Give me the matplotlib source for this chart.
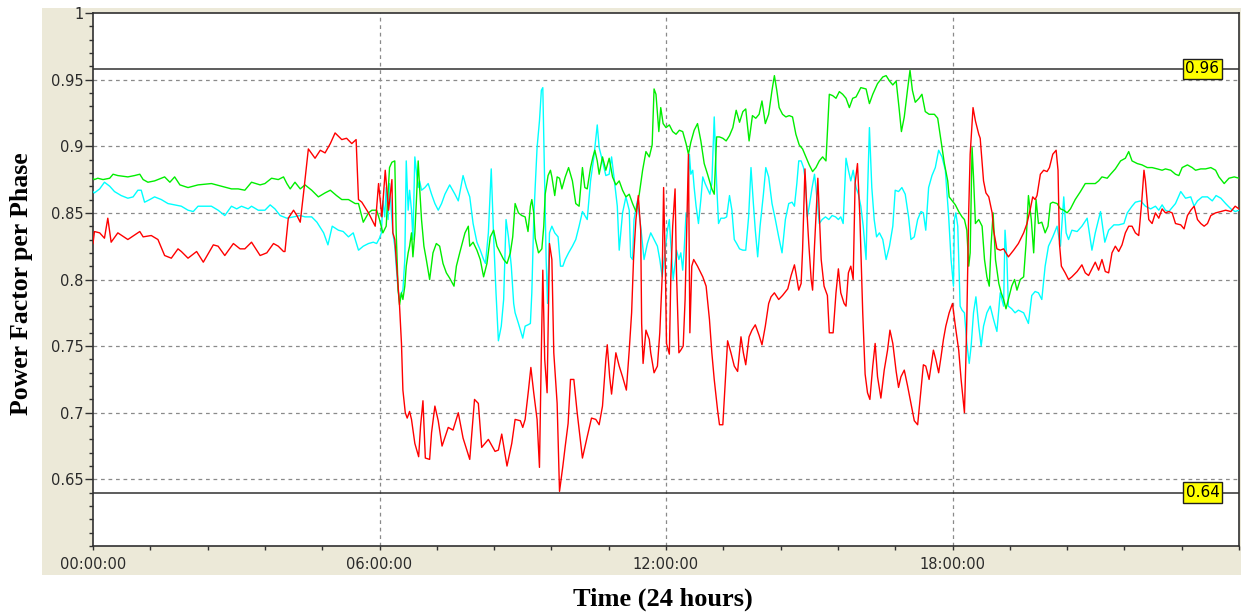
import matplotlib
matplotlib.use("Agg")
import matplotlib.pyplot as plt
from matplotlib.patches import Rectangle
from matplotlib.ticker import MultipleLocator

# ---------------- data (hours, power factor) ----------------
red_t = [0.00,0.03,0.14,0.24,0.31,0.38,0.52,0.73,0.98,1.05,1.22,1.36,1.50,1.64,1.78,1.85,1.99,2.17,2.31,2.52,
         2.62,2.76,2.94,3.08,3.18,3.32,3.50,3.64,3.78,3.88,3.99,4.02,4.09,4.20,4.27,4.34,4.41,4.51,4.65,4.76,
         4.86,4.97,5.07,5.21,5.31,5.42,5.51,5.56,5.63,5.77,5.91,5.98,6.05,6.12,6.19,6.26,6.28,6.32,6.42,6.46,
         6.49,6.54,6.58,6.63,6.67,6.74,6.82,6.86,6.91,6.96,7.05,7.09,7.16,7.23,7.31,7.44,7.54,7.65,7.75,7.89,
         7.99,8.07,8.14,8.28,8.42,8.49,8.56,8.67,8.77,8.84,8.95,9.00,9.05,9.12,9.17,9.23,9.30,9.35,9.39,9.42,
         9.46,9.51,9.56,9.61,9.65,9.72,9.77,9.84,9.89,9.95,10.00,10.07,10.14,10.25,10.35,10.44,10.53,10.60,10.67,10.74,
         10.77,10.82,10.86,10.95,11.02,11.09,11.17,11.23,11.28,11.32,11.37,11.42,11.47,11.49,11.52,11.58,11.65,11.68,11.75,11.82,
         11.87,11.92,11.95,11.99,12.01,12.07,12.10,12.14,12.19,12.22,12.27,12.31,12.36,12.40,12.44,12.47,12.50,12.54,12.58,12.66,
         12.77,12.84,12.91,12.96,13.01,13.08,13.12,13.19,13.24,13.29,13.36,13.43,13.50,13.57,13.62,13.67,13.74,13.80,13.87,13.95,
         14.01,14.08,14.15,14.20,14.27,14.36,14.44,14.55,14.62,14.69,14.72,14.78,14.83,14.86,14.91,14.95,14.99,15.04,15.07,15.11,
         15.14,15.18,15.25,15.31,15.38,15.42,15.50,15.56,15.61,15.66,15.73,15.77,15.82,15.87,15.92,15.96,16.01,16.06,16.12,16.17,
         16.22,16.27,16.33,16.38,16.43,16.50,16.57,16.64,16.69,16.75,16.82,16.87,16.92,16.99,17.06,17.13,17.20,17.27,17.34,17.39,
         17.44,17.51,17.60,17.65,17.71,17.76,17.81,17.86,17.93,18.00,18.06,18.13,18.18,18.25,18.28,18.30,18.34,18.37,18.43,18.48,
         18.55,18.58,18.65,18.70,18.76,18.83,18.86,18.93,19.00,19.07,19.17,19.28,19.38,19.49,19.56,19.63,19.68,19.73,19.77,19.84,
         19.91,19.98,20.03,20.10,20.17,20.21,20.24,20.28,20.36,20.43,20.50,20.61,20.71,20.78,20.85,20.92,20.99,21.06,21.13,21.20,
         21.27,21.34,21.41,21.48,21.55,21.62,21.69,21.76,21.83,21.90,21.96,22.01,22.04,22.08,22.11,22.18,22.25,22.32,22.39,22.46,
         22.53,22.60,22.67,22.78,22.85,22.92,22.99,23.06,23.13,23.20,23.27,23.34,23.41,23.51,23.62,23.72,23.83,23.92,24.00]
red_v = [0.827,0.836,0.835,0.831,0.846,0.828,0.835,0.830,0.836,0.832,0.833,0.830,0.818,0.816,0.823,0.821,0.816,0.821,0.813,0.826,
         0.825,0.818,0.827,0.823,0.823,0.828,0.818,0.820,0.827,0.825,0.821,0.821,0.846,0.852,0.848,0.843,0.865,0.898,0.891,0.897,
         0.895,0.902,0.910,0.905,0.906,0.902,0.905,0.860,0.858,0.850,0.840,0.872,0.847,0.882,0.852,0.875,0.835,0.830,0.780,0.752,
         0.717,0.700,0.696,0.701,0.695,0.677,0.667,0.690,0.709,0.666,0.665,0.685,0.705,0.694,0.675,0.689,0.687,0.700,0.681,0.665,
         0.710,0.707,0.674,0.680,0.671,0.672,0.684,0.660,0.677,0.695,0.694,0.689,0.695,0.717,0.734,0.715,0.695,0.659,0.747,0.807,
         0.740,0.715,0.827,0.815,0.745,0.707,0.641,0.660,0.675,0.692,0.725,0.725,0.700,0.666,0.682,0.696,0.695,0.691,0.705,0.740,
         0.751,0.727,0.714,0.745,0.735,0.727,0.717,0.747,0.775,0.815,0.845,0.863,0.837,0.767,0.737,0.762,0.755,0.745,0.730,0.735,
         0.760,0.802,0.869,0.802,0.752,0.744,0.800,0.840,0.868,0.805,0.745,0.747,0.750,0.785,0.847,0.894,0.760,0.810,0.815,0.810,
         0.802,0.795,0.770,0.745,0.725,0.702,0.691,0.691,0.722,0.754,0.745,0.735,0.731,0.757,0.745,0.736,0.757,0.762,0.766,0.758,
         0.751,0.765,0.782,0.787,0.790,0.785,0.788,0.793,0.803,0.811,0.805,0.792,0.797,0.822,0.883,0.852,0.827,0.800,0.792,0.825,
         0.847,0.876,0.815,0.795,0.788,0.760,0.760,0.790,0.808,0.790,0.782,0.780,0.805,0.810,0.800,0.872,0.887,0.847,0.775,0.729,
         0.715,0.710,0.735,0.752,0.727,0.711,0.732,0.747,0.762,0.752,0.731,0.719,0.727,0.732,0.720,0.707,0.694,0.691,0.717,0.736,
         0.735,0.725,0.747,0.740,0.730,0.742,0.755,0.765,0.775,0.782,0.765,0.747,0.725,0.700,0.740,0.770,0.852,0.894,0.929,0.919,
         0.909,0.906,0.874,0.865,0.862,0.850,0.837,0.823,0.822,0.823,0.817,0.822,0.827,0.835,0.842,0.853,0.862,0.860,0.863,0.879,
         0.882,0.881,0.884,0.894,0.897,0.882,0.827,0.810,0.805,0.800,0.802,0.806,0.811,0.805,0.803,0.808,0.813,0.807,0.815,0.806,
         0.805,0.820,0.825,0.821,0.826,0.835,0.840,0.840,0.835,0.833,0.857,0.882,0.874,0.857,0.845,0.842,0.850,0.846,0.853,0.850,
         0.851,0.850,0.842,0.841,0.838,0.848,0.852,0.855,0.845,0.842,0.840,0.842,0.848,0.850,0.851,0.852,0.851,0.855,0.853]

green_t = [0.00,0.03,0.10,0.21,0.35,0.42,0.52,0.73,0.87,0.98,1.05,1.15,1.29,1.50,1.61,1.71,1.82,1.99,2.20,2.48,
           2.69,2.90,3.04,3.18,3.32,3.50,3.60,3.74,3.88,3.99,4.06,4.13,4.23,4.34,4.44,4.58,4.72,4.86,4.97,5.10,
           5.21,5.35,5.49,5.56,5.66,5.77,5.84,5.94,6.00,6.07,6.14,6.21,6.26,6.32,6.35,6.39,6.42,6.46,6.49,6.53,
           6.56,6.60,6.63,6.67,6.70,6.74,6.77,6.81,6.84,6.88,6.93,6.98,7.05,7.12,7.19,7.26,7.33,7.40,7.47,7.56,
           7.61,7.68,7.79,7.86,7.89,7.96,8.04,8.11,8.18,8.25,8.32,8.39,8.46,8.53,8.60,8.67,8.74,8.79,8.84,8.91,
           8.98,9.05,9.11,9.16,9.19,9.23,9.26,9.33,9.40,9.44,9.47,9.53,9.58,9.61,9.67,9.72,9.77,9.82,9.89,9.96,
           10.04,10.11,10.18,10.25,10.30,10.35,10.42,10.47,10.51,10.56,10.60,10.67,10.74,10.81,10.88,10.95,11.02,11.09,11.16,11.23,
           11.30,11.37,11.44,11.51,11.58,11.65,11.71,11.75,11.79,11.85,11.89,11.94,12.00,12.07,12.14,12.21,12.28,12.35,12.42,12.47,
           12.52,12.59,12.66,12.73,12.80,12.87,12.91,12.96,13.01,13.06,13.12,13.19,13.26,13.33,13.40,13.47,13.54,13.61,13.67,13.74,
           13.81,13.88,13.95,14.01,14.08,14.15,14.22,14.27,14.32,14.37,14.44,14.51,14.58,14.65,14.72,14.79,14.86,14.93,15.00,15.07,
           15.14,15.21,15.28,15.35,15.42,15.49,15.56,15.63,15.70,15.77,15.84,15.91,15.98,16.08,16.19,16.26,16.33,16.43,16.54,16.61,
           16.68,16.75,16.82,16.88,16.93,16.99,17.06,17.11,17.16,17.22,17.30,17.36,17.43,17.51,17.62,17.69,17.76,17.83,17.90,17.93,
           18.04,18.06,18.13,18.20,18.25,18.30,18.34,18.37,18.41,18.44,18.48,18.55,18.62,18.67,18.72,18.77,18.81,18.85,18.90,18.97,
           19.02,19.07,19.12,19.17,19.24,19.30,19.35,19.42,19.49,19.54,19.59,19.65,19.70,19.75,19.80,19.87,19.94,20.00,20.05,20.10,
           20.19,20.26,20.33,20.40,20.47,20.57,20.68,20.78,20.89,20.99,21.06,21.13,21.24,21.31,21.41,21.52,21.62,21.69,21.76,21.87,
           21.97,22.08,22.18,22.29,22.39,22.46,22.57,22.67,22.74,22.81,22.92,23.02,23.09,23.20,23.30,23.41,23.51,23.58,23.69,23.79,
           23.90,24.00]
green_v = [0.876,0.875,0.876,0.875,0.876,0.879,0.878,0.877,0.878,0.879,0.875,0.873,0.874,0.877,0.873,0.877,0.871,0.869,0.871,0.872,
           0.870,0.868,0.868,0.867,0.873,0.871,0.872,0.876,0.875,0.877,0.872,0.868,0.873,0.868,0.871,0.867,0.862,0.865,0.867,0.863,
           0.860,0.860,0.857,0.857,0.843,0.850,0.852,0.852,0.845,0.835,0.840,0.884,0.888,0.889,0.835,0.792,0.781,0.790,0.785,0.795,
           0.810,0.820,0.825,0.835,0.817,0.835,0.857,0.889,0.869,0.845,0.825,0.815,0.800,0.820,0.827,0.825,0.812,0.805,0.801,0.795,
           0.810,0.820,0.835,0.840,0.825,0.828,0.822,0.815,0.802,0.812,0.832,0.837,0.825,0.820,0.815,0.812,0.820,0.832,0.857,0.850,
           0.848,0.847,0.836,0.855,0.860,0.850,0.831,0.820,0.823,0.840,0.864,0.878,0.882,0.877,0.863,0.877,0.876,0.868,0.877,0.884,
           0.874,0.857,0.855,0.884,0.869,0.868,0.884,0.892,0.897,0.889,0.879,0.892,0.882,0.891,0.877,0.871,0.874,0.867,0.862,0.864,
           0.857,0.851,0.864,0.882,0.896,0.892,0.901,0.943,0.939,0.911,0.929,0.917,0.914,0.916,0.911,0.909,0.912,0.911,0.902,0.894,
           0.903,0.912,0.917,0.904,0.887,0.879,0.874,0.868,0.864,0.907,0.907,0.906,0.904,0.908,0.914,0.927,0.918,0.926,0.928,0.904,
           0.923,0.921,0.924,0.934,0.917,0.924,0.942,0.953,0.942,0.929,0.924,0.922,0.923,0.922,0.909,0.901,0.898,0.892,0.886,0.881,
           0.884,0.889,0.892,0.889,0.939,0.938,0.936,0.941,0.939,0.936,0.929,0.936,0.937,0.944,0.943,0.932,0.939,0.947,0.952,0.953,
           0.949,0.946,0.949,0.929,0.911,0.922,0.943,0.957,0.942,0.933,0.936,0.939,0.926,0.924,0.924,0.921,0.904,0.887,0.874,0.862,
           0.857,0.856,0.851,0.847,0.845,0.837,0.810,0.820,0.899,0.877,0.842,0.845,0.840,0.815,0.802,0.795,0.827,0.850,0.815,0.797,
           0.790,0.785,0.778,0.785,0.795,0.800,0.792,0.800,0.802,0.827,0.863,0.845,0.820,0.860,0.842,0.843,0.835,0.840,0.857,0.858,
           0.857,0.853,0.852,0.850,0.853,0.860,0.866,0.872,0.872,0.872,0.874,0.877,0.876,0.879,0.883,0.889,0.891,0.896,0.889,0.887,
           0.886,0.884,0.884,0.883,0.882,0.883,0.882,0.879,0.878,0.884,0.886,0.884,0.882,0.883,0.883,0.884,0.882,0.877,0.872,0.876,
           0.877,0.876]

cyan_t = [0.00,0.03,0.14,0.24,0.35,0.45,0.59,0.73,0.84,0.94,1.01,1.08,1.19,1.29,1.43,1.57,1.71,1.85,1.99,2.10,
          2.20,2.34,2.48,2.62,2.76,2.90,3.01,3.11,3.25,3.32,3.46,3.60,3.71,3.81,3.92,4.06,4.20,4.34,4.44,4.58,
          4.69,4.83,4.92,5.01,5.14,5.24,5.35,5.45,5.56,5.66,5.77,5.87,5.94,6.00,6.04,6.07,6.11,6.14,6.18,6.21,
          6.25,6.28,6.32,6.35,6.39,6.42,6.46,6.49,6.53,6.56,6.60,6.63,6.67,6.70,6.74,6.77,6.81,6.84,6.88,6.95,
          7.02,7.09,7.16,7.23,7.30,7.37,7.47,7.58,7.65,7.75,7.82,7.89,7.96,8.04,8.11,8.18,8.22,8.28,8.34,8.39,
          8.44,8.49,8.55,8.60,8.65,8.70,8.76,8.81,8.84,8.91,9.00,9.05,9.11,9.16,9.19,9.23,9.26,9.30,9.35,9.39,
          9.42,9.45,9.49,9.52,9.56,9.61,9.67,9.74,9.79,9.84,9.89,9.96,10.04,10.11,10.18,10.25,10.35,10.42,10.49,10.56,
          10.60,10.67,10.74,10.81,10.86,10.91,10.98,11.02,11.09,11.16,11.23,11.26,11.30,11.33,11.40,11.47,11.54,11.61,11.68,11.75,
          11.82,11.87,11.92,11.96,12.03,12.07,12.10,12.15,12.20,12.22,12.27,12.31,12.35,12.38,12.42,12.45,12.49,12.52,12.56,12.59,
          12.63,12.68,12.73,12.77,12.82,12.87,12.92,12.96,13.01,13.06,13.10,13.15,13.22,13.27,13.33,13.38,13.43,13.48,13.54,13.61,
          13.67,13.73,13.78,13.83,13.87,13.92,13.97,14.04,14.09,14.15,14.22,14.29,14.36,14.43,14.50,14.57,14.64,14.69,14.74,14.78,
          14.83,14.88,14.92,14.96,15.00,15.06,15.11,15.14,15.21,15.27,15.34,15.41,15.48,15.55,15.61,15.66,15.71,15.77,15.82,15.87,
          15.92,15.98,16.03,16.08,16.13,16.19,16.22,16.26,16.31,16.36,16.41,16.47,16.54,16.61,16.68,16.75,16.80,16.87,16.94,17.01,
          17.08,17.13,17.20,17.27,17.34,17.39,17.44,17.50,17.57,17.64,17.71,17.78,17.85,17.92,17.97,18.02,18.04,18.07,18.11,18.16,
          18.20,18.25,18.30,18.35,18.39,18.44,18.49,18.55,18.60,18.65,18.72,18.79,18.86,18.93,19.00,19.07,19.10,19.14,19.17,19.24,
          19.31,19.38,19.49,19.59,19.66,19.73,19.80,19.87,19.94,20.01,20.10,20.19,20.26,20.33,20.38,20.43,20.50,20.61,20.71,20.82,
          20.92,20.99,21.10,21.19,21.27,21.38,21.48,21.59,21.66,21.76,21.83,21.94,22.04,22.15,22.25,22.32,22.39,22.46,22.53,22.67,
          22.78,22.88,22.99,23.06,23.13,23.23,23.34,23.44,23.52,23.62,23.72,23.83,23.92,24.00]
cyan_v = [0.866,0.865,0.868,0.873,0.870,0.866,0.863,0.861,0.862,0.867,0.867,0.858,0.860,0.862,0.860,0.857,0.856,0.855,0.852,0.851,
          0.855,0.855,0.855,0.852,0.848,0.855,0.853,0.855,0.853,0.855,0.852,0.852,0.856,0.853,0.848,0.846,0.847,0.848,0.847,0.847,
          0.843,0.835,0.826,0.840,0.837,0.836,0.832,0.835,0.822,0.825,0.827,0.828,0.827,0.831,0.835,0.859,0.847,0.869,0.845,0.872,
          0.850,0.835,0.825,0.810,0.792,0.785,0.790,0.792,0.815,0.889,0.852,0.867,0.852,0.830,0.892,0.882,0.869,0.874,0.867,0.869,
          0.872,0.864,0.857,0.852,0.857,0.864,0.871,0.864,0.859,0.878,0.869,0.862,0.842,0.828,0.822,0.815,0.812,0.835,0.883,0.832,
          0.790,0.754,0.765,0.785,0.845,0.832,0.810,0.782,0.775,0.767,0.756,0.765,0.766,0.767,0.790,0.845,0.869,0.899,0.919,0.942,
          0.944,0.889,0.815,0.782,0.835,0.840,0.835,0.832,0.810,0.810,0.815,0.820,0.825,0.830,0.840,0.851,0.845,0.874,0.892,0.916,
          0.899,0.889,0.878,0.879,0.892,0.877,0.855,0.822,0.850,0.862,0.852,0.817,0.815,0.845,0.859,0.840,0.815,0.827,0.835,0.830,
          0.825,0.815,0.802,0.815,0.837,0.845,0.827,0.800,0.815,0.822,0.815,0.820,0.807,0.822,0.850,0.847,0.894,0.879,0.882,0.869,
          0.855,0.842,0.860,0.877,0.872,0.868,0.864,0.872,0.922,0.872,0.842,0.846,0.846,0.847,0.863,0.852,0.830,0.827,0.823,0.822,
          0.822,0.847,0.884,0.857,0.837,0.817,0.840,0.864,0.884,0.877,0.857,0.845,0.832,0.820,0.845,0.857,0.858,0.855,0.872,0.889,
          0.889,0.884,0.874,0.847,0.855,0.869,0.879,0.869,0.842,0.845,0.847,0.845,0.848,0.847,0.845,0.847,0.842,0.891,0.882,0.874,
          0.882,0.869,0.864,0.855,0.840,0.815,0.864,0.914,0.869,0.845,0.832,0.835,0.830,0.815,0.825,0.840,0.867,0.866,0.869,0.864,
          0.847,0.830,0.832,0.845,0.851,0.850,0.837,0.869,0.878,0.884,0.897,0.892,0.882,0.847,0.815,0.795,0.845,0.850,0.840,0.780,
          0.777,0.775,0.752,0.737,0.750,0.775,0.787,0.765,0.750,0.765,0.775,0.780,0.770,0.761,0.790,0.780,0.837,0.815,0.780,0.778,
          0.775,0.777,0.775,0.767,0.788,0.791,0.790,0.785,0.810,0.825,0.832,0.840,0.825,0.862,0.835,0.830,0.837,0.836,0.840,0.846,
          0.822,0.835,0.851,0.828,0.837,0.841,0.841,0.842,0.850,0.855,0.858,0.859,0.855,0.853,0.855,0.852,0.856,0.852,0.851,0.857,
          0.866,0.861,0.862,0.855,0.859,0.862,0.862,0.859,0.863,0.861,0.857,0.853,0.851,0.852]

y_major = [0.65, 0.70, 0.75, 0.80, 0.85, 0.90, 0.95, 1.00]
y_labels = ["0.65", "0.7", "0.75", "0.8", "0.85", "0.9", "0.95", "1"]
x_major = [0, 6, 12, 18]
x_labels = ["00:00:00", "06:00:00", "12:00:00", "18:00:00"]
upper_limit = 0.958
lower_limit = 0.64
upper_label = "0.96"
lower_label = "0.64"

# ---------------- figure ----------------
W, H = 1241, 613
fig = plt.figure(figsize=(W / 100, H / 100), dpi=100, facecolor="white")

# beige panel behind axes
fig.patches.append(Rectangle((42 / W, 1 - 575 / H), 1 - 42 / W, (575 - 8) / H,
                             transform=fig.transFigure, facecolor="#ECE9D8",
                             edgecolor="none", zorder=-5))

ax = fig.add_axes([93 / W, 1 - 546 / H, (1239 - 93) / W, (546 - 13) / H])
ax.set_zorder(1)
ax.set_facecolor("white")
ax.set_xlim(0, 24)
ax.set_ylim(0.6, 1.0)

# grid
for y in y_major[:-1]:
    ax.axhline(y, color="#8a8a8a", lw=0.9, ls=(0, (3, 3)), zorder=1)
for x in x_major[1:]:
    ax.axvline(x, color="#8a8a8a", lw=0.9, ls=(0, (3, 3)), zorder=1)

# limit lines
ax.axhline(upper_limit, color="#303030", lw=1.1, zorder=2)
ax.axhline(lower_limit, color="#303030", lw=1.1, zorder=2)

# series
ax.plot(cyan_t, cyan_v, color="#00FFFF", lw=1.0, zorder=3)
ax.plot(green_t, green_v, color="#00EE00", lw=1.0, zorder=4)
ax.plot(red_t, red_v, color="#FF0000", lw=1.0, zorder=5)

# limit labels
lab_x = (1202.5 - 93) / (1239 - 93)
for val, txt in [(upper_limit, upper_label), (lower_limit, lower_label)]:
    ax.text(lab_x, val, txt, transform=ax.get_yaxis_transform(), ha="center", va="center",
            fontsize=11, family="DejaVu Sans", color="black", zorder=6,
            bbox=dict(boxstyle="square,pad=0.18", facecolor="#FFFF00", edgecolor="#202020", lw=1.0))

# ticks
ax.set_yticks(y_major)
ax.set_yticklabels(y_labels)
ax.yaxis.set_minor_locator(MultipleLocator(0.01))
ax.set_xticks(x_major)
ax.set_xticklabels(x_labels)
ax.xaxis.set_minor_locator(MultipleLocator(1.2))
ax.tick_params(axis="y", which="major", length=6, width=1, color="#303030",
               labelsize=10.5, labelcolor="#2a2a2a", pad=1)
ax.tick_params(axis="y", which="minor", length=3, width=1, color="#303030")
ax.tick_params(axis="x", which="both", length=3, width=1, color="#303030",
               labelsize=10.5, labelcolor="#2a2a2a", pad=5)
for lab in ax.get_xticklabels() + ax.get_yticklabels():
    lab.set_family("DejaVu Sans")

for s in ax.spines.values():
    s.set_color("#303030")
    s.set_linewidth(1.2)

# axis titles
fig.text(21.5 / W, 1 - 284 / H, "Power Factor per Phase", rotation=90, ha="center", va="center",
         fontsize=18.5, fontweight="bold", family="Liberation Serif")
fig.text(663 / W, 1 - 599 / H, "Time (24 hours)", ha="center", va="center",
         fontsize=19, fontweight="bold", family="Liberation Serif")

fig.savefig("out.png", dpi=100, facecolor="white")
